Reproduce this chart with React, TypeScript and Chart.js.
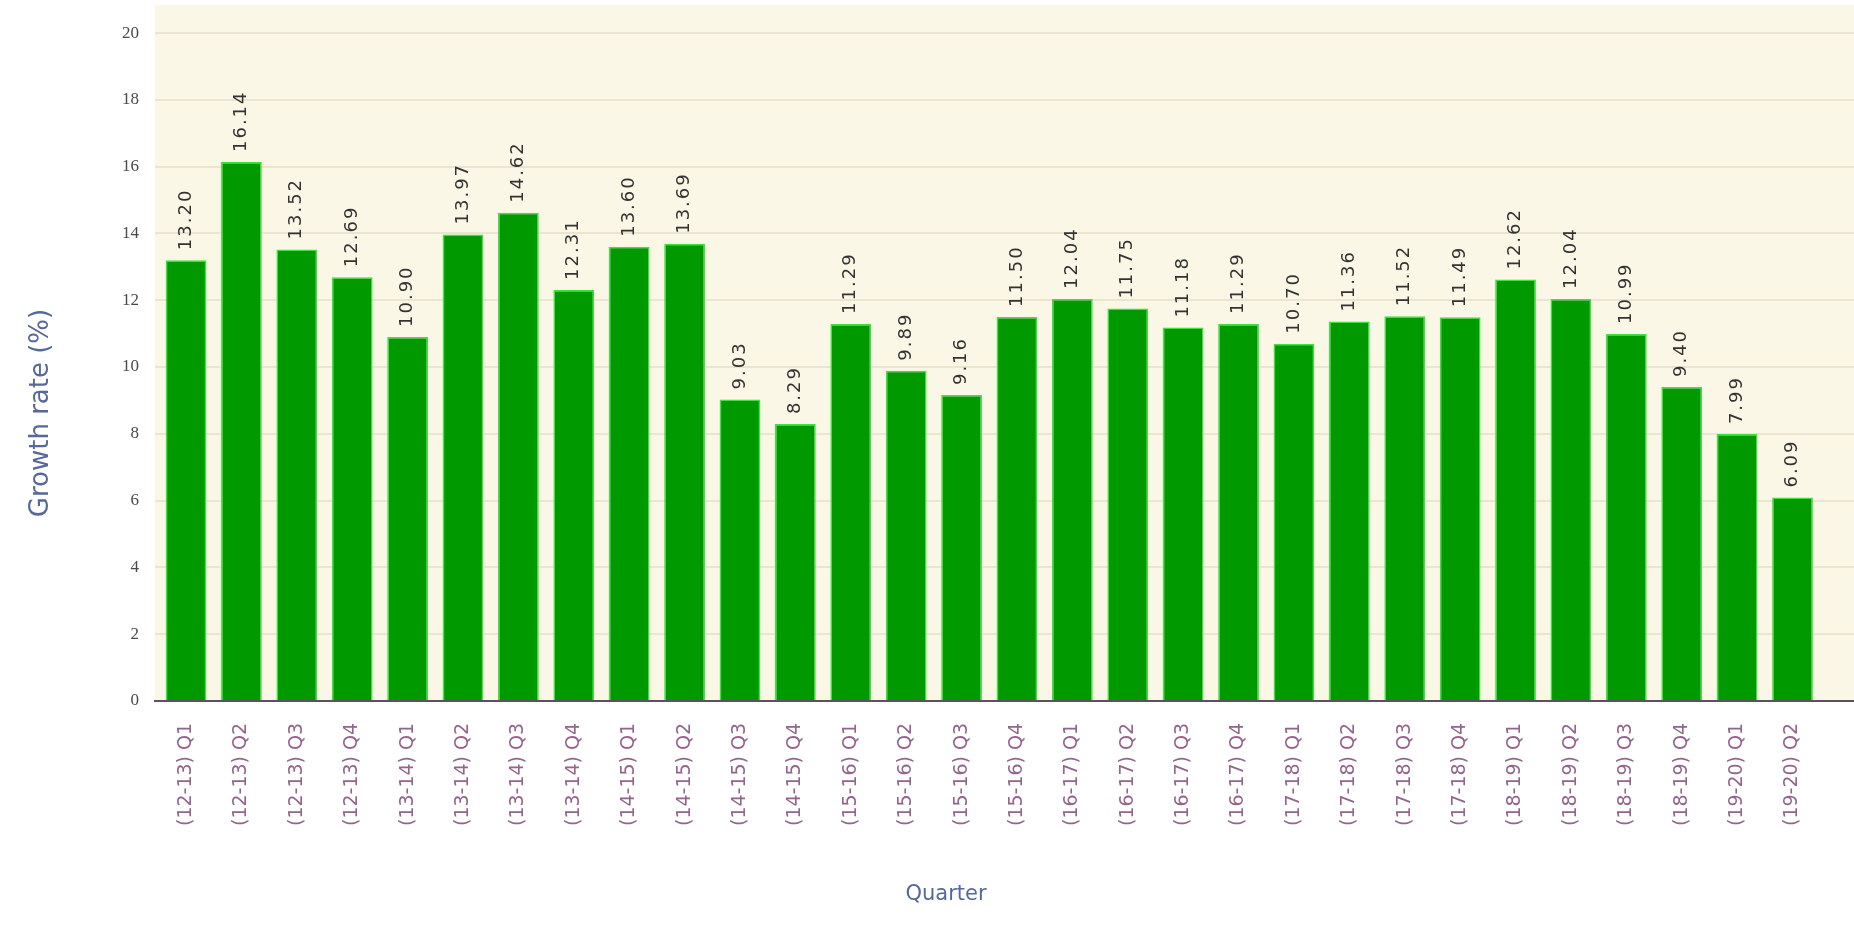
import React, { useEffect, useRef } from "react";
import { Chart, registerables } from "chart.js";

Chart.register(...registerables);

// Fiscal years and quarters for each bar
const fiscalYears = [
  "12-13", "12-13", "12-13", "12-13",
  "13-14", "13-14", "13-14", "13-14",
  "14-15", "14-15", "14-15", "14-15",
  "15-16", "15-16", "15-16", "15-16",
  "16-17", "16-17", "16-17", "16-17",
  "17-18", "17-18", "17-18", "17-18",
  "18-19", "18-19", "18-19", "18-19",
  "19-20", "19-20",
];
const quarters = [
  "Q1", "Q2", "Q3", "Q4", "Q1", "Q2", "Q3", "Q4",
  "Q1", "Q2", "Q3", "Q4", "Q1", "Q2", "Q3", "Q4",
  "Q1", "Q2", "Q3", "Q4", "Q1", "Q2", "Q3", "Q4",
  "Q1", "Q2", "Q3", "Q4", "Q1", "Q2",
];
const categoryLabels = fiscalYears.map((fy, i) => `(${fy}) ${quarters[i]}`);

// Growth rate (%) per quarter
const growthRates = [
  13.2, 16.14, 13.52, 12.69,
  10.9, 13.97, 14.62, 12.31,
  13.6, 13.69, 9.03, 8.29,
  11.29, 9.89, 9.16, 11.5,
  12.04, 11.75, 11.18, 11.29,
  10.7, 11.36, 11.52, 11.49,
  12.62, 12.04, 10.99, 9.4,
  7.99, 6.09,
];

const yTicks = [0, 2, 4, 6, 8, 10, 12, 14, 16, 18, 20];

const xAxisTitle = "Quarter";
const yAxisTitle = "Growth rate (%)";

const plotBackground = {
  id: "plotBackground",
  beforeDraw(chart: any) {
    const { ctx, chartArea } = chart;
    ctx.save();
    ctx.fillStyle = "#faf7e6";
    ctx.fillRect(chartArea.left, chartArea.top, chartArea.right - chartArea.left, chartArea.bottom - chartArea.top);
    ctx.restore();
  },
};

// Value printed vertically above each bar
const barValueLabels = {
  id: "barValueLabels",
  afterDatasetsDraw(chart: any) {
    const { ctx } = chart;
    const meta = chart.getDatasetMeta(0);
    ctx.save();
    ctx.font = "18px 'DejaVu Sans'";
    (ctx as any).letterSpacing = "2px";
    ctx.fillStyle = "#333333";
    ctx.textAlign = "left";
    ctx.textBaseline = "middle";
    meta.data.forEach((bar: any, i: number) => {
      ctx.save();
      ctx.translate(bar.x, bar.y - 10);
      ctx.rotate(-Math.PI / 2);
      ctx.fillText(growthRates[i].toFixed(2), 0, 0);
      ctx.restore();
    });
    ctx.restore();
  },
};

// Axis titles
const axisTitles = {
  id: "axisTitles",
  afterDraw(chart: any) {
    const { ctx } = chart;
    ctx.save();
    ctx.fillStyle = "#56699a";
    ctx.textAlign = "center";
    ctx.textBaseline = "middle";
    ctx.font = "21px 'DejaVu Sans'";
    ctx.fillText(xAxisTitle, 946, 895);
    ctx.font = "26px 'DejaVu Sans'";
    ctx.translate(41, 413);
    ctx.rotate(-Math.PI / 2);
    ctx.fillText(yAxisTitle, 0, 0);
    ctx.restore();
  },
};

export default function App() {
  const canvasRef = useRef<HTMLCanvasElement | null>(null);

  useEffect(() => {
    if (!canvasRef.current) return;
    const chart = new Chart(canvasRef.current, {
      type: "bar",
      data: {
        datasets: [
          {
            label: yAxisTitle,
            data: growthRates.map((v, i) => ({ x: i, y: v })),
            backgroundColor: "#009a00",
            borderColor: "#3fe03f",
            borderWidth: 1.5,
            barPercentage: 0.92,
            categoryPercentage: 0.8,
          },
        ],
      },
      options: {
        animation: false,
        responsive: true,
        maintainAspectRatio: false,
        layout: { padding: { left: 122, right: 0, top: 0, bottom: 77 } },
        plugins: {
          legend: { display: false },
          tooltip: { enabled: false },
        },
        scales: {
          x: {
            type: "linear",
            offset: false,
            min: -0.56,
            max: 30.11,
            afterBuildTicks(scale: any) {
              scale.ticks = categoryLabels.map((_, i) => ({ value: i }));
            },
            grid: { display: false, drawTicks: false },
            border: { display: true, color: "#5e5060", width: 2 },
            ticks: {
              autoSkip: false,
              minRotation: 90,
              maxRotation: 90,
              padding: 22,
              color: "#93658d",
              font: { family: "'DejaVu Sans'", size: 19 },
              callback: (value: any) => categoryLabels[value] ?? "",
            },
          },
          y: {
            min: 0,
            max: 20.84,
            afterBuildTicks(scale: any) {
              scale.ticks = yTicks.map((v) => ({ value: v }));
            },
            grid: {
              color: "#ebe4d0",
              lineWidth: 2,
              drawTicks: true,
              tickLength: 16,
              tickColor: "rgba(0,0,0,0)",
            },
            border: { display: false },
            ticks: {
              padding: 0,
              color: "#4a4a4a",
              font: { family: "'Liberation Serif'", size: 17, lineHeight: 0.6 },
            },
          },
        },
      },
      plugins: [plotBackground, barValueLabels, axisTitles],
    });
    return () => chart.destroy();
  }, []);

  return (
    <div style={{ position: "fixed", left: 0, top: 0, width: 1854, height: 925, background: "#ffffff" }}>
      <canvas ref={canvasRef} />
    </div>
  );
}
